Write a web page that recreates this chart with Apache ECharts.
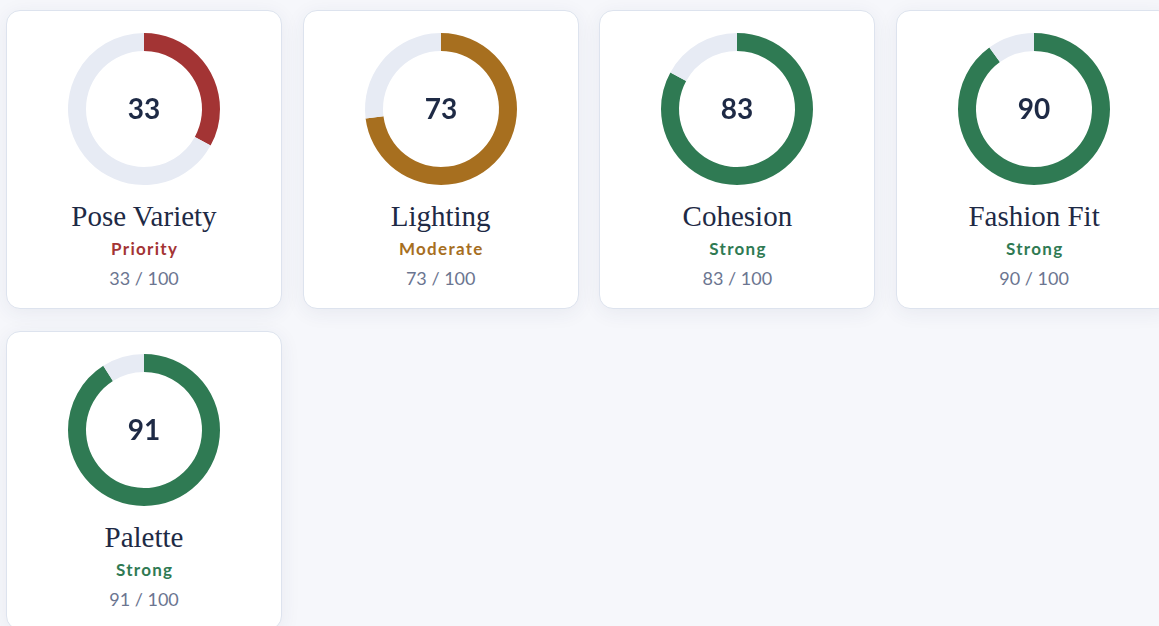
<!DOCTYPE html>
<html>
<head>
<meta charset="utf-8">
<script src="https://cdn.jsdelivr.net/npm/echarts@6/dist/echarts.min.js"></script>
<style>
  html, body { margin: 0; padding: 0; background: #f6f7fb; overflow: hidden; }
  .grid {
    display: grid;
    grid-template-columns: repeat(4, 276px);
    column-gap: 20.7px;
    row-gap: 22px;
    padding: 10px 0 0 6px;
    width: 1300px;
  }
  .card {
    box-sizing: border-box;
    width: 276px;
    height: 299px;
    background: #fff;
    border: 1px solid #dde3ee;
    border-radius: 14px;
    box-shadow: 0 4px 20px rgba(40, 55, 100, 0.07);
    text-align: center;
  }
  .donut { width: 274px; height: 187px; }
  .name {
    font-family: "Liberation Serif", serif;
    font-size: 29px;
    line-height: 36px;
    color: #1e2a45;
  }
  .status {
    font-family: Lato, sans-serif;
    font-weight: bold;
    font-size: 17px;
    letter-spacing: 1.3px;
    line-height: 30px;
    padding-left: 1.3px;
  }
  .score {
    font-family: Lato, sans-serif;
    font-size: 18px;
    line-height: 28px;
    color: #6b7590;
  }
</style>
</head>
<body>
<div class="grid" id="grid"></div>
<script>
// metric cards
const metrics = ['Pose Variety', 'Lighting', 'Cohesion', 'Fashion Fit', 'Palette'];
const scores = [33, 73, 83, 90, 91];
const statuses = ['Priority', 'Moderate', 'Strong', 'Strong', 'Strong'];
const maxScore = 100;

const statusColors = {
    Priority: '#a33434',
    Moderate: '#a76f1f',
    Strong: '#2f7a53'
};
const trackColor = '#e7ebf4';

const grid = document.getElementById('grid');

metrics.forEach((name, i) => {
    const color = statusColors[statuses[i]];
    const card = document.createElement('div');
    card.className = 'card';
    card.innerHTML =
        '<div class="donut"></div>' +
        '<div class="name">' + name + '</div>' +
        '<div class="status" style="color:' + color + '">' + statuses[i] + '</div>' +
        '<div class="score">' + scores[i] + ' / ' + maxScore + '</div>';
    grid.appendChild(card);

    const chart = echarts.init(card.querySelector('.donut'));
    chart.setOption({
        animation: false,
        graphic: [{
            type: 'text',
            left: 'center',
            top: 85,
            style: {
                text: String(scores[i]),
                fill: '#1e2a45',
                font: 'bold 28px Lato',
                textAlign: 'center'
            }
        }],
        series: [{
            type: 'pie',
            center: [137, 98],
            radius: [58, 76],
            startAngle: 90,
            clockwise: true,
            silent: true,
            label: { show: false },
            labelLine: { show: false },
            itemStyle: { borderWidth: 0 },
            data: [
                { value: scores[i], itemStyle: { color: color } },
                { value: maxScore - scores[i], itemStyle: { color: trackColor } }
            ]
        }]
    });
});
</script>
</body>
</html>
